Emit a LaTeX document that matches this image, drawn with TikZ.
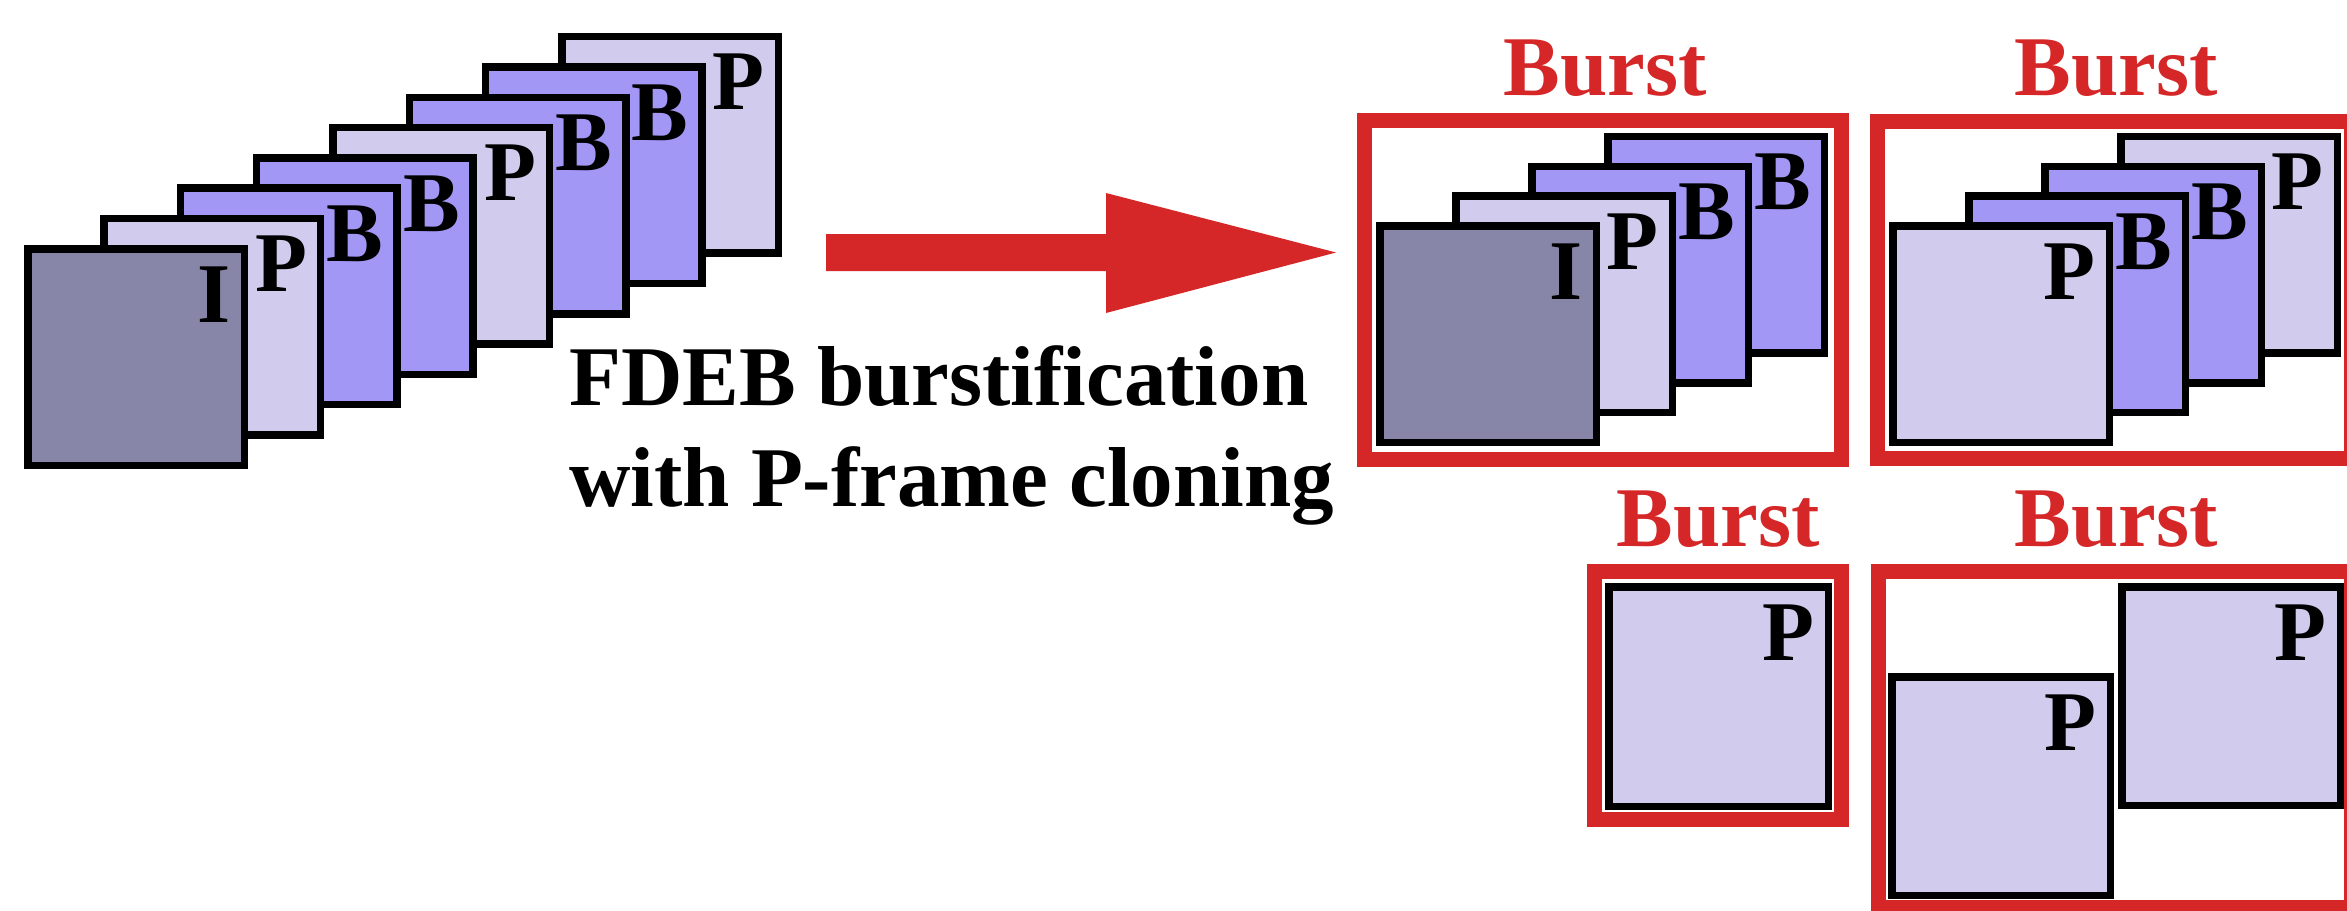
\documentclass[tikz,border=0pt]{standalone}
\usepackage{fontspec}
\setmainfont{Liberation Serif}
\definecolor{redc}{HTML}{D62728}
\definecolor{Icol}{HTML}{8886A8}
\definecolor{Pcol}{HTML}{D1CCED}
\definecolor{Bcol}{HTML}{A397F6}
\newcommand\bigfnt{\fontsize{85}{101}\selectfont\bfseries}
% name, outer x, outer y, colour, letter, size
\newcommand\frameat[6]{%
  \node[frm, fill=#4, minimum width=#6pt-7.5pt, minimum height=#6pt-7.5pt] (#1) at (#2+3.75,#3+3.75) {};
  \node[lbl] (#1t) at ([shift={(-13.25,73.25)}]#1.north east) {#5};}
\begin{document}
\begin{tikzpicture}[x=1pt,y=-1pt,
  frm/.style={draw=black, line width=7.5pt, inner sep=0pt, outer sep=0pt, anchor=north west},
  lbl/.style={font=\bigfnt, inner sep=0pt, anchor=base east, text=black},
  burst/.style={font=\bigfnt, inner sep=0pt, anchor=base, text=redc},
  txt/.style={font=\bigfnt, inner sep=0pt, anchor=base west, text=black},
  redbox/.style={draw=redc, line width=15pt, inner sep=0pt, outer sep=0pt, anchor=north west, fill=white}]
\clip (0,0) rectangle (2347,910);
\fill[white] (0,0) rectangle (2347,910);

% left stack
\foreach \i/\c/\l in {7/Pcol/P,6/Bcol/B,5/Bcol/B,4/Pcol/P,3/Bcol/B,2/Bcol/B,1/Pcol/P,0/Icol/I}{
  \frameat{L\i}{24+76.3*\i}{245-30.3*\i}{\c}{\l}{224}}

% caption
\node[txt] (cap1) at (569,405) {FDEB burstification};
\node[txt] (cap2) at (569,506) {with P-frame cloning};

% arrow
\coordinate (aS) at (826,252.5);
\coordinate (aE) at (1336,252.5);
\fill[redc] (aS) -- ++(0,-18.5) -- ++(280,0) -- ++(0,-41) -- (aE) -- ++(-230,60.5) -- ++(0,-42) -- ++(-280,0) -- cycle;

% burst boxes
\node[redbox, minimum width=477pt, minimum height=339pt] (box1) at (1364.5,120.5) {};
\node[redbox, minimum width=474pt, minimum height=337pt] (box2) at (1877.5,121.5) {};
\node[redbox, minimum width=247pt, minimum height=248pt] (box3) at (1594.5,571.5) {};
\node[redbox, minimum width=473pt, minimum height=336pt] (box4) at (1878.5,571.5) {};

\node[burst] (b1) at (1605,95) {Burst};
\node[burst] (b2) at (2116,95) {Burst};
\node[burst] (b3) at (1718,546) {Burst};
\node[burst] (b4) at (2116,546) {Burst};

% box 1 stack
\foreach \i/\c/\l in {3/Bcol/B,2/Bcol/B,1/Pcol/P,0/Icol/I}{
  \frameat{A\i}{1376+76*\i}{222-29.7*\i}{\c}{\l}{224}}
% box 2 stack
\foreach \i/\c/\l in {3/Pcol/P,2/Bcol/B,1/Bcol/B,0/Pcol/P}{
  \frameat{C\i}{1889+76*\i}{222-29.7*\i}{\c}{\l}{224}}
% box 3
\frameat{D0}{1605}{583}{Pcol}{P}{227}
% box 4
\frameat{E0}{1888}{673}{Pcol}{P}{226}
\frameat{E1}{2118}{583}{Pcol}{P}{226}
\end{tikzpicture}
\end{document}
